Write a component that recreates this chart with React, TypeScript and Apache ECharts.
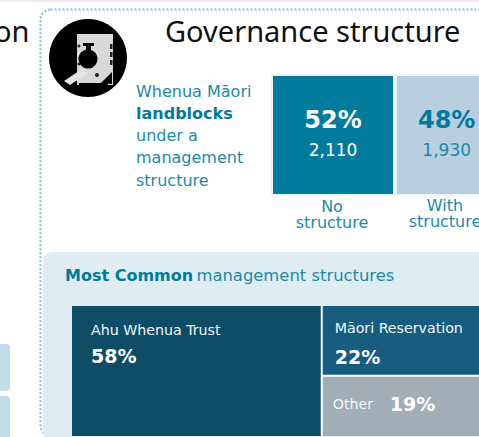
import React, { useEffect, useRef } from "react";
import * as echarts from "echarts";

const structureCategories = ["No\nstructure", "With\nstructure"];
const structureCounts = [2110, 1930];
const structureCountLabels = ["2,110", "1,930"];
const structurePercents = ["52%", "48%"];
const commonNames = ["Ahu Whenua Trust", "Māori Reservation", "Other"];
const commonValues = [58, 22, 19];
const introLines = ["Whenua Māori", "landblocks", "under a", "management", "structure"];

const FONT = "'DejaVu Sans', sans-serif";
const TITLE_FONT = "'Noto Sans', sans-serif";
const TEAL = "#007b9e";
const TEXT_TEAL = "#1b8aa8";
const total = structureCounts.reduce((a, b) => a + b, 0);

export default function App() {
  const ref = useRef<HTMLDivElement>(null);
  useEffect(() => {
    const chart = echarts.init(ref.current!, undefined, { renderer: "svg" });
    const richBar = (main: string, sub: string) => ({
      p: { fontFamily: FONT, fontWeight: 700, fontSize: 24, color: main, lineHeight: 34 },
      n: { fontFamily: FONT, fontSize: 17, color: sub, lineHeight: 26 },
    });
    const barColors = [TEAL, "#b9cede"];
    const barText = [["#ffffff", "#ffffff"], [TEAL, TEXT_TEAL]];
    const barOffsets = [[0, -2], [-5, -2]];
    const treeColors = ["#0f4c66", "#165d80", "#a1adb7"];
    const treeLabelPos = [[14, 6], [7, 2], [5, 9]];
    const treeLine = [26, 29, 26];
    chart.setOption({
      animation: false,
      backgroundColor: "#ffffff",
      grid: { left: 271, top: 74, width: 237.4, height: 122, containLabel: false, outerBoundsMode: "none" },
      xAxis: { type: "value", min: 0, max: total, show: false },
      yAxis: { type: "category", data: ["structure"], show: false },
      series: [
        ...structureCounts.map((v, i) => ({
          type: "bar",
          stack: "s",
          name: structureCategories[i],
          barWidth: 122,
          data: [v],
          silent: true,
          itemStyle: { color: barColors[i], borderColor: "#eef4f7", borderWidth: 2 },
          label: {
            show: true,
            position: "inside",
            offset: barOffsets[i],
            formatter: `{p|${structurePercents[i]}}\n{n|${structureCountLabels[i]}}`,
            rich: richBar(barText[i][0], barText[i][1]),
          },
        })),
        {
          type: "treemap",
          left: 72,
          top: 306,
          width: 426,
          height: 130,
          roam: false,
          nodeClick: false,
          silent: true,
          breadcrumb: { show: false },
          itemStyle: { borderWidth: 0, gapWidth: 2 },
          levels: [{ itemStyle: { borderWidth: 0, gapWidth: 2 } }],
          upperLabel: { show: false },
          data: commonNames.map((name, i) => ({
            name,
            value: commonValues[i],
            itemStyle: { color: treeColors[i], borderWidth: 0 },
            label: {
              show: true,
              position: treeLabelPos[i],
              overflow: "none",
              formatter:
                i === 2
                  ? `{a|${name}}     {c|${commonValues[i]}%}`
                  : `{a|${name}}\n{b|${commonValues[i]}%}`,
              rich: {
                a: { fontFamily: FONT, fontSize: 14.2, color: "#f2f6f8", lineHeight: treeLine[i] },
                b: { fontFamily: FONT, fontWeight: 700, fontSize: 19, color: "#ffffff", lineHeight: treeLine[i] },
                c: { fontFamily: FONT, fontWeight: 700, fontSize: 19, color: "#ffffff" },
              },
            },
          })),
        },
      ],
      graphic: [
        { type: "rect", z: -10, shape: { x: 0, y: 0, width: 479, height: 2 }, style: { fill: "#eeeeee" } },
        { type: "rect", z: -9, shape: { x: 40.5, y: 9.5, width: 520, height: 426, r: 10 }, style: { fill: "#ffffff", stroke: "#7cc3d6", lineWidth: 2, lineDash: [2, 2] } },
        { type: "rect", z: -8, shape: { x: 43, y: 252, width: 500, height: 190, r: 9 }, style: { fill: "#dfedf3" } },
        { type: "rect", z: -8, shape: { x: -10, y: 344, width: 20, height: 47, r: 4 }, style: { fill: "#c1dde7" } },
        { type: "rect", z: -8, shape: { x: -10, y: 396, width: 20, height: 60, r: 4 }, style: { fill: "#c1dde7" } },
        { type: "text", x: -6, y: 30, style: { text: "on", font: `29px ${TITLE_FONT}`, fill: "#111111", textVerticalAlign: "middle" } },
        { type: "text", x: 165, y: 30, style: { text: "Governance structure", font: `29px ${TITLE_FONT}`, fill: "#111111", textVerticalAlign: "middle" } },
        { type: "circle", shape: { cx: 88, cy: 58, r: 39 }, style: { fill: "#000000" } },
        { type: "rect", shape: { x: 77, y: 34, width: 36, height: 51 }, style: { fill: "#d8d8d8" } },
        { type: "polygon", shape: { points: [[64, 81], [82, 69], [88, 73], [70, 85]] }, style: { fill: "#e4e4e4" } },
        { type: "polygon", shape: { points: [[101, 83], [112, 72], [112, 84]] }, style: { fill: "#000000" } },
        { type: "rect", shape: { x: 79, y: 83, width: 29, height: 2 }, style: { fill: "#000000" } },
        { type: "circle", shape: { cx: 88, cy: 59, r: 9.5 }, style: { fill: "#000000" } },
        { type: "rect", shape: { x: 86, y: 46, width: 5, height: 6 }, style: { fill: "#000000" } },
        { type: "rect", shape: { x: 83, y: 43, width: 11, height: 3 }, style: { fill: "#000000" } },
        { type: "rect", shape: { x: 110, y: 44, width: 2.5, height: 5 }, style: { fill: "#222222" } },
        { type: "rect", shape: { x: 110, y: 52, width: 2.5, height: 5 }, style: { fill: "#222222" } },
        { type: "rect", shape: { x: 110, y: 60, width: 2.5, height: 5 }, style: { fill: "#222222" } },
        { type: "circle", shape: { cx: 79, cy: 46, r: 1.5 }, style: { fill: "#222222" } },
        { type: "circle", shape: { cx: 79, cy: 64, r: 1.5 }, style: { fill: "#222222" } },
        { type: "circle", shape: { cx: 97, cy: 75, r: 2 }, style: { fill: "#222222" } },
        ...introLines.map((t, i) => ({
          type: "text",
          x: 136,
          y: 91 + i * 22.3,
          style: {
            text: t,
            font: `${i === 1 ? 700 : 400} 16px ${FONT}`,
            fill: i === 1 ? TEAL : TEXT_TEAL,
            textVerticalAlign: "middle",
          },
        })),
        ...structureCategories.map((t, i) => ({
          type: "text",
          x: [332, 445][i],
          y: [214, 213][i],
          style: {
            text: t,
            font: `16px ${FONT}`,
            lineHeight: 16,
            fill: TEXT_TEAL,
            textAlign: "center",
            textVerticalAlign: "middle",
          },
        })),
        {
          type: "text",
          x: 65,
          y: 275,
          style: {
            rich: {
              b: { fontFamily: FONT, fontWeight: 700, fontSize: 16, fill: TEAL, color: TEAL },
              r: { fontFamily: FONT, fontSize: 16.4, fill: TEXT_TEAL, color: TEXT_TEAL },
            },
            text: "{b|Most Common} {r|management structures}",
            textVerticalAlign: "middle",
          },
        },
      ],
    });
    return () => chart.dispose();
  }, []);
  return <div ref={ref} style={{ position: "absolute", left: 0, top: 0, width: 479, height: 437 }} />;
}
